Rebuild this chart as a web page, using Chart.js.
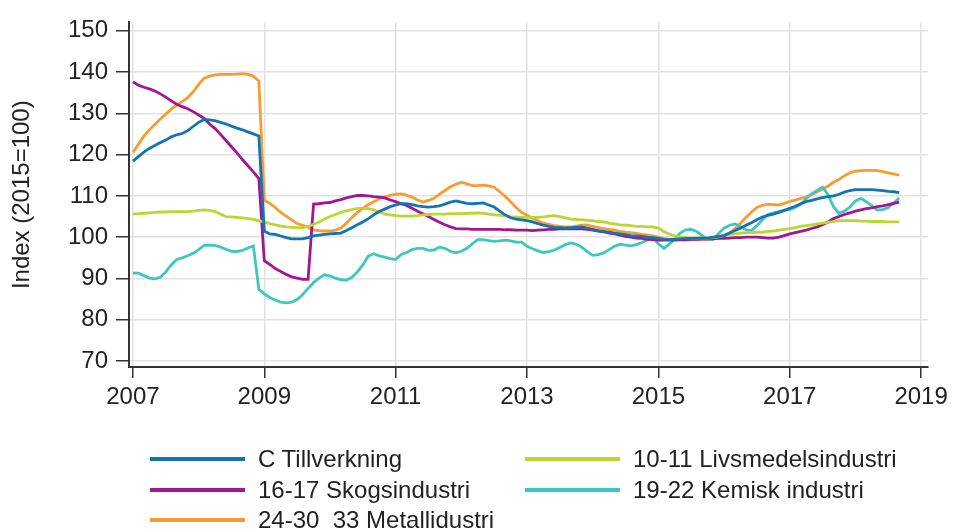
<!DOCTYPE html>
<html>
<head>
<meta charset="utf-8">
<script src="https://cdn.jsdelivr.net/npm/chart.js@4"></script>
<style>
  body { margin: 0; background: #fff; }
  #wrap { position: relative; width: 953px; height: 532px; }
  #box { position: absolute; left: 0; top: 0; width: 953px; height: 410px; }
  #legend { position: absolute; left: 0; top: 0; width: 953px; height: 532px; pointer-events: none;
            font-family: "Liberation Sans", Arial, sans-serif; font-size: 24px; color: #222; }
  .item { position: absolute; height: 30px; line-height: 30px; white-space: pre; }
  .item span.line { position: absolute; left: 0; top: 13px; width: 95px; height: 3.5px; }
  .item span.txt { position: absolute; left: 108px; top: 0; }
</style>
</head>
<body>
<div id="wrap">
  <div id="box"><canvas id="myChart"></canvas></div>
  <div id="legend"></div>
</div>
<script>
// monthly values, jan 2007 .. sep 2018
var startYear = 2007;
var seriesNames = ['C Tillverkning', '10-11 Livsmedelsindustri', '16-17 Skogsindustri', '19-22 Kemisk industri', '24-30  33 Metallidustri'];
var seriesColors = ['#1474b3', '#bcd631', '#a2178f', '#3ec6c0', '#fc9a2f'];
var yTicks = [70, 80, 90, 100, 110, 120, 130, 140, 150];
var xTicks = [2007, 2009, 2011, 2013, 2015, 2017, 2019];

var tillverkning = [
  118.4,119.5,120.6,121.5,122.2,122.9,123.5,124.3,124.8,125.1,125.8,126.8,
  127.8,128.5,128.4,128.2,127.8,127.4,126.9,126.4,126,125.5,125,124.5,
  101.5,100.8,100.7,100.3,99.9,99.6,99.6,99.6,99.9,100.3,100.5,100.7,
  100.8,100.9,101,101.6,102.3,103,103.7,104.5,105.4,106.2,106.8,107.4,
  107.8,108.1,108.1,107.9,107.6,107.4,107.3,107.4,107.6,108,108.5,108.8,
  108.5,108.2,108.1,108.2,108.3,107.8,107.3,106.3,105.4,104.7,104.4,104.2,
  104,103.7,103.3,102.9,102.6,102.4,102.3,102.2,102.3,102.4,102.5,102.2,
  101.9,101.6,101.4,101.2,101,100.8,100.6,100.4,100.3,100.2,100,99.9,
  99.7,99.5,99.4,99.5,99.6,99.7,99.7,99.8,99.8,99.8,100,100.2,
  100.4,101,101.6,102.2,102.9,103.5,104.2,104.9,105.3,105.6,106,106.5,
  107,107.5,108.1,108.6,108.9,109.3,109.6,109.8,110,110.4,110.9,111.3,
  111.5,111.5,111.5,111.5,111.4,111.3,111.1,111,110.8
];
var livsmedel = [
  105.6,105.7,105.8,105.9,106,106.1,106.1,106.2,106.2,106.2,106.2,106.3,
  106.5,106.6,106.5,106.2,105.6,105,104.9,104.8,104.7,104.5,104.3,104,
  103.7,103.3,103,102.7,102.5,102.4,102.3,102.3,102.6,103.1,103.7,104.4,
  105,105.5,106,106.4,106.7,107,107,106.9,106.6,106.1,105.6,105.4,
  105.2,105.1,105.1,105.1,105.2,105.4,105.5,105.6,105.6,105.6,105.7,105.7,
  105.7,105.8,105.8,105.9,105.8,105.6,105.4,105.3,105.2,105,104.9,104.8,
  104.8,104.8,104.8,104.9,105.1,105.2,105,104.7,104.4,104.3,104.2,104.1,
  104,103.8,103.7,103.4,103.2,103,102.9,102.8,102.6,102.6,102.5,102.5,
  102.2,101.4,100.8,100.3,100.1,99.9,99.8,99.8,99.8,99.8,99.9,100.1,
  100.4,100.6,100.8,101,101.1,101.1,101.2,101.2,101.4,101.5,101.7,101.9,
  102.1,102.3,102.6,102.8,103,103.2,103.4,103.6,103.8,104,104,104,
  104,103.9,103.9,103.8,103.8,103.8,103.7,103.7,103.7
];
var skog = [
  137.6,136.8,136.3,135.9,135.4,134.7,133.9,133,132.2,131.6,131.1,130.4,
  129.6,128.8,127.4,126.3,124.9,123.4,121.9,120.4,118.8,117.3,115.8,114.2,
  94.3,93.4,92.4,91.7,91,90.4,90.1,89.8,89.8,108,108.1,108.3,
  108.4,108.8,109.1,109.5,109.8,110.1,110.1,110,109.8,109.7,109.5,109,
  108.6,108.1,107.7,107,106.3,105.7,105,104.3,103.6,103,102.5,102.1,
  102,102,101.9,101.9,101.9,101.9,101.9,101.9,101.8,101.8,101.7,101.7,
  101.7,101.6,101.7,101.8,101.9,101.9,102,102,102,102,102,101.9,
  101.7,101.5,101.3,101,100.8,100.5,100.2,100,99.8,99.7,99.5,99.4,
  99.3,99.3,99.3,99.3,99.4,99.4,99.5,99.5,99.6,99.6,99.6,99.7,
  99.7,99.8,99.9,99.9,100,100,100,99.9,99.8,99.8,100,100.4,
  100.8,101.1,101.4,101.7,102.1,102.5,103,103.7,104.5,105,105.5,105.9,
  106.3,106.6,106.9,107.1,107.4,107.6,107.9,108.2,108.5
];
var kemisk = [
  91.3,91.3,90.7,90.1,89.9,90.3,91.6,93.3,94.6,95,95.5,96.1,
  97,98,98.1,98,97.6,97.1,96.6,96.5,96.8,97.4,97.9,87.4,
  86.3,85.4,84.8,84.3,84.1,84.3,84.9,86.1,87.6,89,90.1,90.9,
  90.6,90.1,89.7,89.6,90.3,91.6,93.3,95.4,96,95.5,95.2,94.8,
  94.6,95.8,96.3,97,97.3,97.3,96.8,96.9,97.6,97.3,96.6,96.2,
  96.6,97.3,98.4,99.4,99.4,99.2,99,99.1,99.3,99.1,98.8,98.8,
  97.8,97.2,96.7,96.3,96.5,96.9,97.5,98.2,98.6,98.3,97.6,96.5,
  95.6,95.8,96.2,97,97.8,98.3,98.1,97.9,98.2,98.7,99.3,99.9,
  98.4,97.3,98.3,99.7,101,101.8,101.9,101.4,100.4,99.5,99.5,100.9,
  102.2,102.9,103.2,102.6,101.8,101.6,102.8,104.2,105.5,105.9,106.2,106.5,
  106.7,107.2,108,109.3,110.5,111.3,112.1,110.3,107.4,105.8,106.3,107.3,
  108.8,109.4,108.6,107.6,106.6,106.7,107.2,108.3,109.5
];
var metall = [
  120.5,122.5,124.5,126,127.3,128.6,129.8,131,132,132.8,133.8,135.2,
  137,138.5,139,139.3,139.4,139.4,139.4,139.5,139.6,139.4,139,137.8,
  109,108.2,107.2,106,105.1,104.2,103.3,102.9,102.4,101.8,101.6,101.5,
  101.5,101.7,102.2,103.4,104.8,106,107,107.9,108.6,109.3,109.8,110.1,
  110.4,110.5,110.2,109.7,109,108.5,108.9,109.4,110.4,111.3,112.2,112.8,
  113.3,112.9,112.5,112.5,112.6,112.4,112.1,111,109.9,108.6,107.2,106,
  105.3,104.6,104,103.4,103.1,102.8,102.6,102.5,102.5,102.7,102.9,103,
  102.6,102.3,102.1,101.9,101.7,101.4,101.2,101.1,100.9,100.7,100.5,100.3,
  100,99.7,99.5,99.4,99.3,99.3,99.4,99.4,99.4,99.4,99.6,99.8,
  100.3,101,102.1,103.4,104.8,106.1,107.2,107.7,108,107.9,107.8,108.2,
  108.7,109,109.4,109.7,110.3,111,111.6,112.4,113.3,114,114.9,115.6,
  116,116.1,116.2,116.2,116.1,115.9,115.6,115.3,115
];

var allSeries = [tillverkning, livsmedel, skog, kemisk, metall];

function toPoints(values) {
  return values.map(function (v, i) { return { x: startYear + i / 12, y: v }; });
}

Chart.defaults.font.family = '"Liberation Sans", Arial, sans-serif';
Chart.defaults.font.size = 24;
Chart.defaults.color = '#222';

var ctx = document.getElementById('myChart').getContext('2d');

var graphData = {
  type: 'line',
  data: {
    datasets: allSeries.map(function (s, k) {
      return {
        label: seriesNames[k],
        data: toPoints(s),
        borderColor: seriesColors[k],
        backgroundColor: seriesColors[k],
        borderWidth: 2.8,
        pointRadius: 0,
        tension: 0,
        fill: false
      };
    })
  },
  options: {
    responsive: true,
    maintainAspectRatio: false,
    animation: false,
    layout: { padding: { left: 0, right: 23, top: 15, bottom: 0 } },
    plugins: { legend: { display: false }, tooltip: { enabled: false } },
    scales: {
      x: {
        type: 'linear',
        min: 2006.94,
        max: 2019.106,
        afterBuildTicks: function (axis) { axis.ticks = xTicks.map(function (v) { return { value: v }; }); },
        afterFit: function (axis) { axis.height = 43; },
        ticks: { padding: 5, maxRotation: 0, callback: function (v) { return String(v); } },
        grid: { color: '#e2e2e2', lineWidth: 1.5, tickColor: '#333', tickWidth: 1.5, tickLength: 11 },
        border: { color: '#333', width: 2 }
      },
      y: {
        min: 68.58,
        max: 152,
        afterBuildTicks: function (axis) { axis.ticks = yTicks.map(function (v) { return { value: v }; }); },
        afterFit: function (axis) { axis.width = 129; },
        ticks: { padding: 8 },
        grid: { color: '#e2e2e2', lineWidth: 1.5, tickColor: '#333', tickWidth: 1.5, tickLength: 13 },
        border: { color: '#333', width: 2 },
        title: { display: true, text: 'Index (2015=100)', padding: { top: 8, bottom: 0 } }
      }
    }
  }
};

var myChart = new Chart(ctx, graphData);

// legend in two columns under the chart
var legendPos = [[150, 444], [525, 444], [150, 475], [525, 475], [150, 505]];
var legend = document.getElementById('legend');
seriesNames.forEach(function (name, k) {
  var d = document.createElement('div');
  d.className = 'item';
  d.style.left = legendPos[k][0] + 'px';
  d.style.top = legendPos[k][1] + 'px';
  var ln = document.createElement('span');
  ln.className = 'line';
  ln.style.background = seriesColors[k];
  var tx = document.createElement('span');
  tx.className = 'txt';
  tx.textContent = name;
  d.appendChild(ln);
  d.appendChild(tx);
  legend.appendChild(d);
});
</script>
</body>
</html>
